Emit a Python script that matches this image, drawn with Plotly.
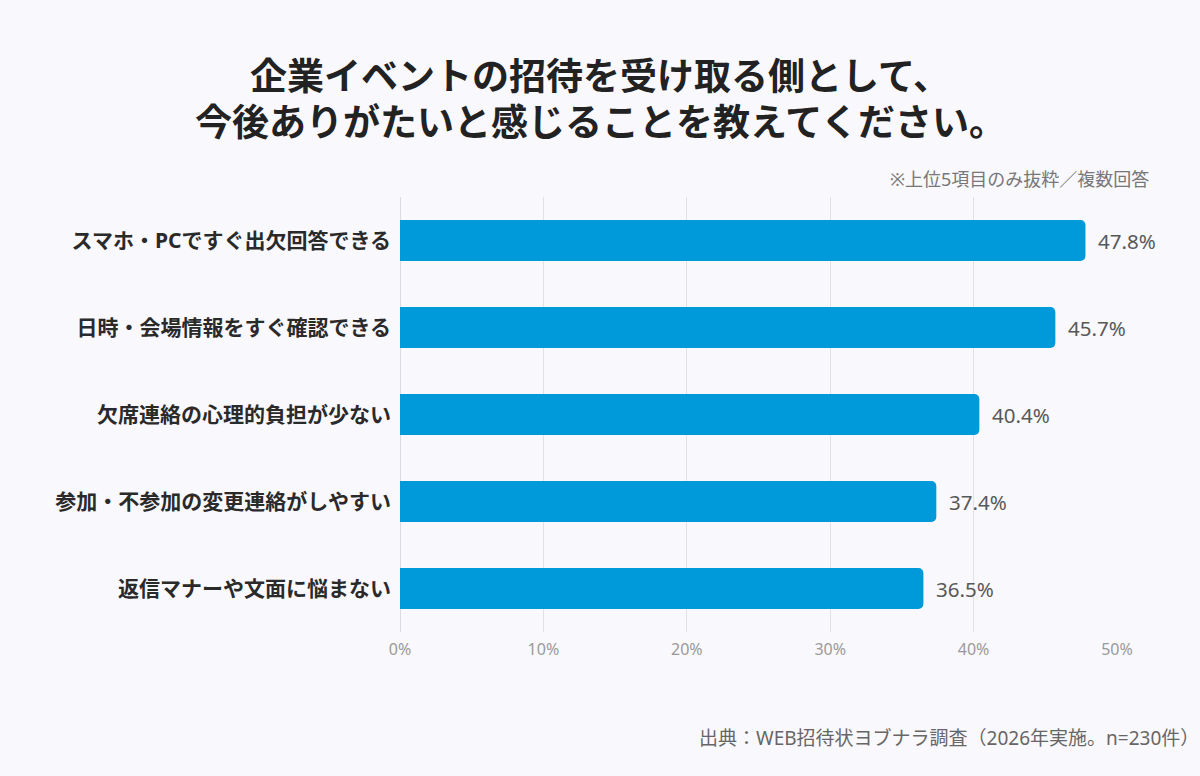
import plotly.graph_objects as go

categories = [
    "スマホ・PCですぐ出欠回答できる",
    "日時・会場情報をすぐ確認できる",
    "欠席連絡の心理的負担が少ない",
    "参加・不参加の変更連絡がしやすい",
    "返信マナーや文面に悩まない",
]
values = [47.8, 45.7, 40.4, 37.4, 36.5]
tick_vals = [0, 10, 20, 30, 40, 50]
tick_text = ["0%", "10%", "20%", "30%", "40%", "50%"]

title_lines = [
    "企業イベントの招待を受け取る側として、",
    "今後ありがたいと感じることを教えてください。",
]
note_text = "※上位5項目のみ抜粋／複数回答"
source_text = "出典：WEB招待状ヨブナラ調査（2026年実施。n=230件）"

FONT = "Noto Sans, Noto Sans CJK JP"
BG = "#f9f8fc"
BAR = "#0099da"

fig = go.Figure()
fig.add_trace(go.Bar(
    y=categories,
    x=values,
    orientation="h",
    marker=dict(color=BAR, cornerradius=5, line=dict(width=0)),
    width=0.47,
    hoverinfo="skip",
))

for c, v in zip(categories, values):
    fig.add_annotation(
        x=v, y=c, xref="x", yref="y",
        text=f"{v:.1f}%", showarrow=False,
        xanchor="left", xshift=11,
        font=dict(family=FONT, size=20.5, color="#585858"),
    )

fig.update_layout(
    width=1200, height=776,
    paper_bgcolor=BG, plot_bgcolor=BG,
    margin=dict(l=400, r=83, t=197, b=144),
    showlegend=False,
    xaxis=dict(
        range=[0, 50], tickvals=tick_vals, ticktext=tick_text,
        showgrid=True, gridcolor="#e2e1e8", gridwidth=1,
        zeroline=True, zerolinecolor="#dcdbe3", zerolinewidth=1,
        showline=False, ticks="", ticklabelstandoff=6,
        tickfont=dict(family=FONT, size=16, color="#9a9a9a"),
        fixedrange=True,
    ),
    yaxis=dict(
        autorange="reversed", showgrid=False, showline=False, ticks="",
        ticklabelstandoff=8,
        tickfont=dict(family=FONT, size=21, color="#2a2a2a", weight="bold"),
        fixedrange=True,
    ),
    font=dict(family=FONT),
)

for i, line in enumerate(title_lines):
    fig.add_annotation(
        x=600, y=75 + 47 * i, xref="paper", yref="paper",
        text=line, showarrow=False,
        font=dict(family=FONT, size=37, color="#222222", weight="bold"),
    )

fig.add_annotation(
    x=1, y=1, xref="paper", yref="paper",
    text=note_text, showarrow=False,
    xanchor="right", yanchor="bottom", xshift=34, yshift=4,
    font=dict(family=FONT, size=18, color="#777777"),
)
fig.add_annotation(
    x=1, y=0, xref="paper", yref="paper",
    text=source_text, showarrow=False,
    xanchor="right", yanchor="middle", xshift=84, yshift=-106,
    font=dict(family=FONT, size=19, color="#666666"),
)

# convert pixel-specified title positions to paper coordinates
plot_w = 1200 - 400 - 83
plot_h = 776 - 197 - 144
for ann in fig.layout.annotations:
    if ann.xref == "paper" and ann.x is not None and ann.x > 2:
        ann.x = (ann.x - 400) / plot_w
        ann.y = 1 - (ann.y - 197) / plot_h
        ann.xanchor = "center"
        ann.yanchor = "middle"

fig.write_html("out.html")
